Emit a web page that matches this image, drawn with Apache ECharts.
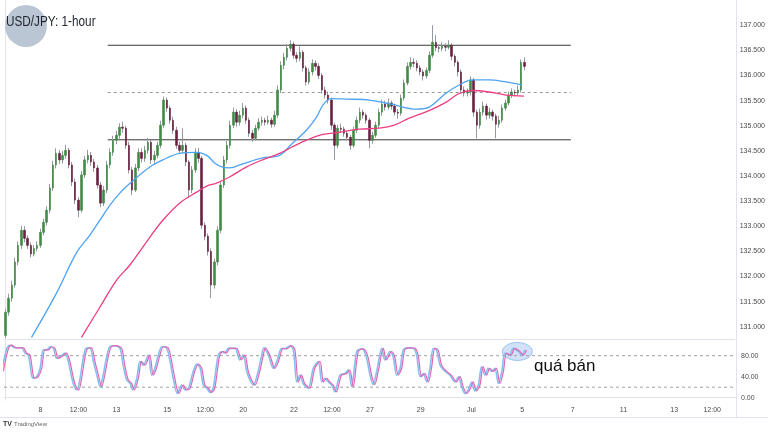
<!DOCTYPE html>
<html><head><meta charset="utf-8">
<script src="https://cdn.jsdelivr.net/npm/echarts/dist/echarts.min.js"></script>
<style>html,body{margin:0;padding:0;background:#fff}#c{width:768px;height:432px}</style>
</head><body><div id="c"></div>
<script>
// ---- data (3-hour sampling of the USD/JPY path) ----
const opens = [130.83,
131.29,131.57,131.83,132.29,132.62,132.92,132.76,132.62,132.45,132.56,
132.62,132.88,133.08,133.32,133.76,134.22,134.45,134.32,134.41,134.51,
134.22,133.88,133.52,133.32,134.02,134.32,134.41,134.28,134.16,133.82,
133.46,133.72,134.22,134.47,134.71,134.81,134.97,134.95,134.61,134.12,
133.72,134.16,134.47,134.35,134.51,134.67,134.32,134.41,134.61,135.01,
135.51,135.35,135.11,134.91,134.61,134.51,134.61,134.28,133.72,134.12,
134.47,134.35,133.02,132.80,132.50,131.83,132.29,132.92,133.82,134.32,
134.61,135.01,135.27,135.07,135.21,135.35,135.11,134.85,134.75,134.95,
135.07,135.11,135.07,135.11,135.03,135.21,135.71,136.20,136.36,136.54,
136.62,136.40,136.34,136.46,136.15,135.87,136.07,136.24,136.18,136.00,
135.71,135.61,135.51,135.01,134.61,134.95,134.93,134.85,134.77,134.61,
134.91,135.11,135.27,135.21,135.11,134.71,134.81,135.01,135.27,135.43,
135.37,135.45,135.39,135.27,135.25,135.55,135.85,136.18,136.26,136.24,
136.15,136.07,135.99,136.10,136.40,136.66,136.55,136.54,136.58,136.56,
136.60,136.38,136.26,136.07,135.71,135.65,135.67,135.91,135.27,135.01,
135.27,135.39,135.21,135.27,135.19,135.03,135.11,135.35,135.45,135.61,
135.67,135.65,135.71,136.26];
const closes = [
131.29,131.57,131.83,132.29,132.62,132.92,132.76,132.62,132.45,132.56,
132.62,132.88,133.08,133.32,133.76,134.22,134.45,134.32,134.41,134.51,
134.22,133.88,133.52,133.32,134.02,134.32,134.41,134.28,134.16,133.82,
133.46,133.72,134.22,134.47,134.71,134.81,134.97,134.95,134.61,134.12,
133.72,134.16,134.47,134.35,134.51,134.67,134.32,134.41,134.61,135.01,
135.51,135.35,135.11,134.91,134.61,134.51,134.61,134.28,133.72,134.12,
134.47,134.35,133.02,132.80,132.50,131.83,132.29,132.92,133.82,134.32,
134.61,135.01,135.27,135.07,135.21,135.35,135.11,134.85,134.75,134.95,
135.07,135.11,135.07,135.11,135.03,135.21,135.71,136.20,136.36,136.54,
136.62,136.40,136.34,136.46,136.15,135.87,136.07,136.24,136.18,136.00,
135.71,135.61,135.51,135.01,134.61,134.95,134.93,134.85,134.77,134.61,
134.91,135.11,135.27,135.21,135.11,134.71,134.81,135.01,135.27,135.43,
135.37,135.45,135.39,135.27,135.25,135.55,135.85,136.18,136.26,136.24,
136.15,136.07,135.99,136.10,136.40,136.66,136.55,136.54,136.58,136.56,
136.60,136.38,136.26,136.07,135.71,135.65,135.67,135.91,135.27,135.01,
135.27,135.39,135.21,135.27,135.19,135.03,135.11,135.35,135.45,135.61,
135.67,135.65,135.71,136.26,136.18];
const highs = [
131.36,131.66,131.92,132.38,132.70,133.01,133.00,132.82,132.68,132.63,
132.70,132.95,133.15,133.40,133.84,134.30,134.55,134.52,134.50,134.62,
134.56,134.28,133.95,133.58,134.10,134.40,134.52,134.48,134.34,134.22,
133.88,133.80,134.30,134.55,134.80,134.90,135.05,135.08,135.00,134.68,
134.18,134.24,134.55,134.55,134.60,134.76,134.72,134.50,134.68,135.10,
135.58,135.56,135.40,135.18,134.98,134.68,134.95,134.66,134.32,134.20,
134.55,134.56,134.40,133.08,132.86,132.56,132.36,133.00,133.90,134.40,
134.70,135.10,135.36,135.33,135.30,135.45,135.40,135.16,134.92,135.02,
135.15,135.18,135.16,135.20,135.16,135.30,135.80,136.28,136.45,136.62,
136.70,136.67,136.46,136.58,136.50,136.20,136.14,136.32,136.30,136.24,
136.05,135.78,135.68,135.56,135.06,135.02,135.04,134.98,134.90,134.82,
134.98,135.18,135.36,135.32,135.26,135.15,134.88,135.08,135.34,135.52,
135.50,135.54,135.50,135.44,135.33,135.62,135.92,136.26,136.36,136.34,
136.30,136.20,136.12,136.16,136.48,137.00,136.80,136.62,136.66,136.64,
136.70,136.64,136.42,136.30,136.12,135.78,135.74,135.98,135.95,135.32,
135.34,135.48,135.44,135.36,135.32,135.24,135.20,135.42,135.52,135.68,
135.74,135.72,135.80,136.32,136.36];
const lows = [
130.78,131.22,131.50,131.78,132.22,132.55,132.68,132.55,132.38,132.40,
132.50,132.57,132.82,133.02,133.26,133.70,134.15,134.24,134.25,134.34,
134.15,133.80,133.44,133.18,133.27,133.96,134.25,134.20,134.08,133.75,
133.38,133.40,133.66,134.15,134.40,134.63,134.74,134.86,134.54,134.05,
133.62,133.68,134.10,134.27,134.28,134.44,134.24,134.25,134.35,134.55,
134.95,135.28,135.04,134.84,134.54,134.44,134.45,134.20,133.56,133.66,
134.06,134.26,132.95,132.72,132.42,131.57,131.76,132.22,132.86,133.76,
134.25,134.55,134.95,134.98,135.00,135.15,135.04,134.78,134.68,134.70,
134.90,135.00,135.00,135.02,134.96,134.98,135.15,135.65,136.12,136.30,
136.48,136.33,136.26,136.28,136.08,135.80,135.82,136.00,136.10,135.93,
135.64,135.54,135.44,134.92,134.32,134.55,134.86,134.78,134.70,134.52,
134.56,134.85,135.05,135.14,135.04,134.55,134.64,134.76,134.95,135.20,
135.30,135.32,135.32,135.20,135.14,135.20,135.50,135.80,136.12,136.16,
136.08,136.00,135.90,135.94,136.05,136.35,136.48,136.46,136.48,136.48,
136.52,136.30,136.18,135.98,135.64,135.58,135.58,135.60,135.18,134.75,
134.94,135.20,135.12,135.14,135.10,134.75,134.96,135.06,135.30,135.40,
135.55,135.58,135.60,135.66,136.10];

// x-axis ticks (candle slot index -> label)
const tickIdx = [11,23,35,51,63,75,91,103,115,131,147,163,179,195,211,223];
const tickLabels = ['8','12:00','13','15','12:00','20','22','12:00','27','29','Jul','5','7','11','13','12:00'];
const slotCount = 231;

// moving averages [slot index, price]
const blueMA = [[8.2,130.79],[16.1,131.67],[22.4,132.47],[26.6,132.82],[29.8,133.12],[33.0,133.42],[36.1,133.66],[39.8,133.88],[45.6,134.18],[49.7,134.32],[55.0,134.45],[60.4,134.47],[63.6,134.41],[66.1,134.26],[68.3,134.18],[70.8,134.16],[74.9,134.24],[81.2,134.36],[86.6,134.41],[90.7,134.65],[95.1,134.91],[98.3,135.17],[100.4,135.42],[103.0,135.54],[107.7,135.53],[115.0,135.51],[121.9,135.43],[129.8,135.33],[133.9,135.37],[139.3,135.65],[143.4,135.81],[147.5,135.91],[152.9,135.91],[158.2,135.87],[163.3,135.81]];
const pinkMA = [[24.0,130.79],[29.8,131.39],[35.1,131.93],[39.3,132.23],[45.6,132.78],[49.7,133.12],[55.0,133.46],[60.4,133.68],[63.6,133.80],[66.7,133.86],[70.8,133.98],[76.2,134.18],[81.2,134.32],[86.6,134.45],[92.9,134.65],[99.2,134.81],[105.5,134.87],[111.8,134.93],[118.2,134.95],[122.9,135.01],[127.6,135.15],[133.9,135.30],[139.3,135.47],[143.4,135.64],[147.5,135.70],[152.9,135.67],[158.2,135.61],[163.9,135.59]];

// horizontal levels
const levelTop = 136.60, levelMid = 135.66, levelBot = 134.72;
const levelFrom = 32.3, levelTo = 178.7;

// stochastic RSI (%K blue, %D pink)
const stochIdx = [-1.2,0.4,1.4,3.0,5.1,6.1,7.2,8.2,8.7,9.8,10.9,11.9,13.0,14.0,15.1,16.1,17.2,18.7,19.8,20.9,21.9,22.6,23.5,24.5,25.4,26.6,27.7,28.8,29.8,30.8,31.9,32.9,34.5,36.1,37.1,38.2,39.3,40.1,41.4,42.4,43.5,45.0,46.1,47.1,48.2,49.3,50.8,51.9,52.9,54.2,55.6,56.6,57.7,59.2,60.3,61.4,62.4,63.5,64.5,65.5,67.1,68.2,69.2,70.3,72.4,73.9,75.0,76.1,77.1,78.2,79.7,80.8,81.5,82.9,84.5,85.6,87.1,88.2,89.7,90.8,91.9,92.9,93.9,95.5,97.1,98.7,99.8,100.8,101.8,102.9,103.9,105.5,107.1,108.1,109.2,110.8,112.4,113.7,115.0,116.0,117.1,118.7,119.7,121.3,122.3,123.4,124.5,125.5,127.1,128.7,129.7,130.8,131.8,132.9,133.9,135.0,136.0,137.1,138.7,140.2,141.8,142.9,143.9,145.0,146.0,147.1,148.1,149.2,150.2,151.3,152.3,153.4,154.4,155.5,156.6,157.6,159.0,160.2,161.8,162.9,163.9];
const stochK = [50,94,100,95,95,85,81,43,37,40,56,91,91,97,94,75,78,85,69,37,18,15,37,75,94,95,69,43,21,43,78,97,99,94,62,34,27,15,37,69,62,81,43,56,81,97,95,69,37,8,24,15,18,50,64,56,24,18,10,18,81,88,85,94,94,72,81,50,34,24,50,80,95,81,56,69,94,93,99,91,30,43,27,18,56,69,30,37,30,24,11,43,46,53,21,88,93,81,43,25,50,94,72,88,78,43,56,91,95,94,81,40,46,30,56,94,91,62,50,43,30,40,21,8,15,30,13,24,59,43,56,50,56,27,50,85,81,94,88,81,91];
const stochD = [50,94,100,95,95,85,81,43,37,40,56,91,91,97,94,75,78,85,69,37,18,15,37,75,94,95,69,43,21,43,78,97,99,94,62,34,27,15,37,69,62,81,43,56,81,97,95,69,37,8,24,15,18,50,64,56,24,18,10,18,81,88,85,94,94,72,81,50,34,24,50,80,95,81,56,69,94,93,99,91,30,43,27,18,56,69,30,37,30,24,11,43,46,53,21,88,93,81,43,25,50,94,72,88,78,43,56,91,95,94,81,40,46,30,56,94,91,62,50,43,30,40,21,8,15,30,13,24,59,43,56,50,56,27,50,85,81,94,88,81,91];
const dLag = 0.5;
const stochLevels = [80, 20];
const overboughtAt = [161.5, 88];
const noteText = 'quá bán';
const titleText = 'USD/JPY: 1-hour';

// ---- build ----
const cats = Array.from({length: slotCount}, (_, i) => String(i));
const labelMap = {};
tickIdx.forEach((t, k) => { labelMap[t] = tickLabels[k]; });
const wickData = opens.map((o, i) => [o, closes[i], lows[i], highs[i]]);
const bodyData = opens.map((o, i) => [o, closes[i], Math.min(o, closes[i]), Math.max(o, closes[i])]);
const kData = stochIdx.map((x, i) => [x, stochK[i]]);
const dData = stochIdx.map((x, i) => [x + dLag, stochD[i]]);

const FONT = "'Liberation Sans', Arial, sans-serif";
const AX = '#e0e3eb';
const LBL = '#4a4a4a';
const xMin = -0.5, xMax = slotCount - 0.5;

const chart = echarts.init(document.getElementById('c'), null, {renderer: 'canvas'});
const option = {
  animation: false,
  backgroundColor: '#ffffff',
  textStyle: {fontFamily: FONT},
  grid: [
    {left: 4, right: 32, top: 0, height: 339.4},
    {left: 4, right: 32, top: 337.3, height: 63}
  ],
  xAxis: [
    {type: 'category', gridIndex: 0, data: cats, boundaryGap: true,
     axisLine: {show: true, lineStyle: {color: AX}}, axisTick: {show: false}, axisLabel: {show: false}, splitLine: {show: false}},
    {type: 'value', gridIndex: 0, min: xMin, max: xMax, show: false},
    {type: 'category', gridIndex: 1, data: cats, boundaryGap: true,
     axisLine: {show: true, lineStyle: {color: AX}}, axisTick: {show: false}, splitLine: {show: false},
     axisLabel: {show: true, interval: (i) => labelMap[i] !== undefined, formatter: (v, i) => labelMap[i] || '',
                 fontSize: 7, color: LBL, margin: 6, fontFamily: FONT}},
    {type: 'value', gridIndex: 1, min: xMin, max: xMax, show: false}
  ],
  yAxis: [
    {type: 'value', gridIndex: 0, position: 'right', min: 130.75, max: 137.5, interval: 0.25,
     axisLine: {show: true, lineStyle: {color: AX}}, axisTick: {show: false}, splitLine: {show: false},
     axisLabel: {fontSize: 7, color: LBL, margin: 5, fontFamily: FONT,
       formatter: (v) => { const d = v * 2; return (Math.abs(d - Math.round(d)) < 1e-6 && v >= 131 - 1e-6 && v <= 137 + 1e-6) ? v.toFixed(3) : ''; }}},
    {type: 'value', gridIndex: 1, position: 'right', min: -5, max: 115, interval: 5,
     axisLine: {show: true, lineStyle: {color: AX}}, axisTick: {show: false}, splitLine: {show: false},
     axisLabel: {fontSize: 7, color: LBL, margin: 5, fontFamily: FONT,
       formatter: (v) => (v === 0 || v === 40 || v === 80) ? v.toFixed(2) : ''}}
  ],
  series: [
    {type: 'line', xAxisIndex: 1, yAxisIndex: 0, data: [[levelFrom, levelTop], [levelTo, levelTop]], symbol: 'none', silent: true,
     lineStyle: {color: '#3a3a3a', width: 1}, z: 1},
    {type: 'line', xAxisIndex: 1, yAxisIndex: 0, data: [[levelFrom, levelMid], [levelTo, levelMid]], symbol: 'none', silent: true,
     lineStyle: {color: '#9a9a9a', width: 1, type: [3, 3]}, z: 1},
    {type: 'line', xAxisIndex: 1, yAxisIndex: 0, data: [[levelFrom, levelBot], [levelTo, levelBot]], symbol: 'none', silent: true,
     lineStyle: {color: '#3a3a3a', width: 1}, z: 1},
    {type: 'candlestick', xAxisIndex: 0, yAxisIndex: 0, data: wickData, barWidth: 1, silent: true, z: 2,
     itemStyle: {color: '#959aa0', color0: '#959aa0', borderColor: '#959aa0', borderColor0: '#959aa0', borderWidth: 1}},
    {type: 'candlestick', xAxisIndex: 0, yAxisIndex: 0, data: bodyData, barWidth: 2, silent: true, z: 3,
     itemStyle: {color: '#3f8a44', color0: '#6a1e40', borderColor: '#3f8a44', borderColor0: '#6a1e40', borderWidth: 0.6}},
    {type: 'line', xAxisIndex: 1, yAxisIndex: 0, data: blueMA, smooth: 0.35, symbol: 'none', silent: true, z: 4,
     lineStyle: {color: '#4ea3f2', width: 1.3}},
    {type: 'line', xAxisIndex: 1, yAxisIndex: 0, data: pinkMA, smooth: 0.35, symbol: 'none', silent: true, z: 4,
     lineStyle: {color: '#ee3e82', width: 1.3}},
    ...stochLevels.map(l => ({type: 'line', xAxisIndex: 3, yAxisIndex: 1, data: [[xMin, l], [xMax, l]], symbol: 'none', silent: true, z: 1,
     lineStyle: {color: '#a0a0a0', width: 1, type: [3, 3]}})),
    {type: 'line', xAxisIndex: 3, yAxisIndex: 1, data: kData, smooth: 0.3, symbol: 'none', silent: true, z: 4,
     lineStyle: {color: '#86bff2', width: 1.6}},
    {type: 'line', xAxisIndex: 3, yAxisIndex: 1, data: dData, smooth: 0.3, symbol: 'none', silent: true, z: 5,
     lineStyle: {color: '#e066b4', width: 1.2}}
  ]
};
chart.setOption(option);

const ep = chart.convertToPixel({xAxisIndex: 3, yAxisIndex: 1}, overboughtAt);
chart.setOption({
  graphic: [
    {type: 'line', shape: {x1: 0, y1: 417.5, x2: 768, y2: 417.5}, style: {stroke: AX, lineWidth: 1}, silent: true},
    {type: 'line', shape: {x1: 736.5, y1: 0, x2: 736.5, y2: 417.5}, style: {stroke: AX, lineWidth: 1}, silent: true},
    {type: 'ellipse', shape: {cx: ep[0], cy: ep[1], rx: 15, ry: 9}, z: 0,
     style: {fill: 'rgba(120,170,235,0.35)', stroke: 'rgba(100,155,230,0.55)', lineWidth: 1}, silent: true},
    {type: 'text', left: 534, top: 358, z: 10, silent: true,
     style: {text: noteText, fill: '#111', font: "17px 'Liberation Sans', Arial, sans-serif"}},
    {type: 'circle', shape: {cx: 26, cy: 26, r: 21}, z: 5, style: {fill: 'rgba(178,192,207,0.9)'}, silent: true},
    {type: 'text', x: 6, y: 15, scaleX: 0.84, z: 10, silent: true,
     style: {text: titleText, fill: '#1e222d', font: "14px 'Liberation Sans', Arial, sans-serif"}},
    {type: 'text', x: 3, y: 421, z: 10, silent: true,
     style: {text: 'TV', fill: '#333', font: "bold 7px 'Liberation Sans', Arial, sans-serif"}},
    {type: 'text', x: 14, y: 421.5, z: 10, silent: true,
     style: {text: 'TradingView', fill: '#666', font: "6px 'Liberation Sans', Arial, sans-serif"}}
  ]
});
</script>
</body></html>
